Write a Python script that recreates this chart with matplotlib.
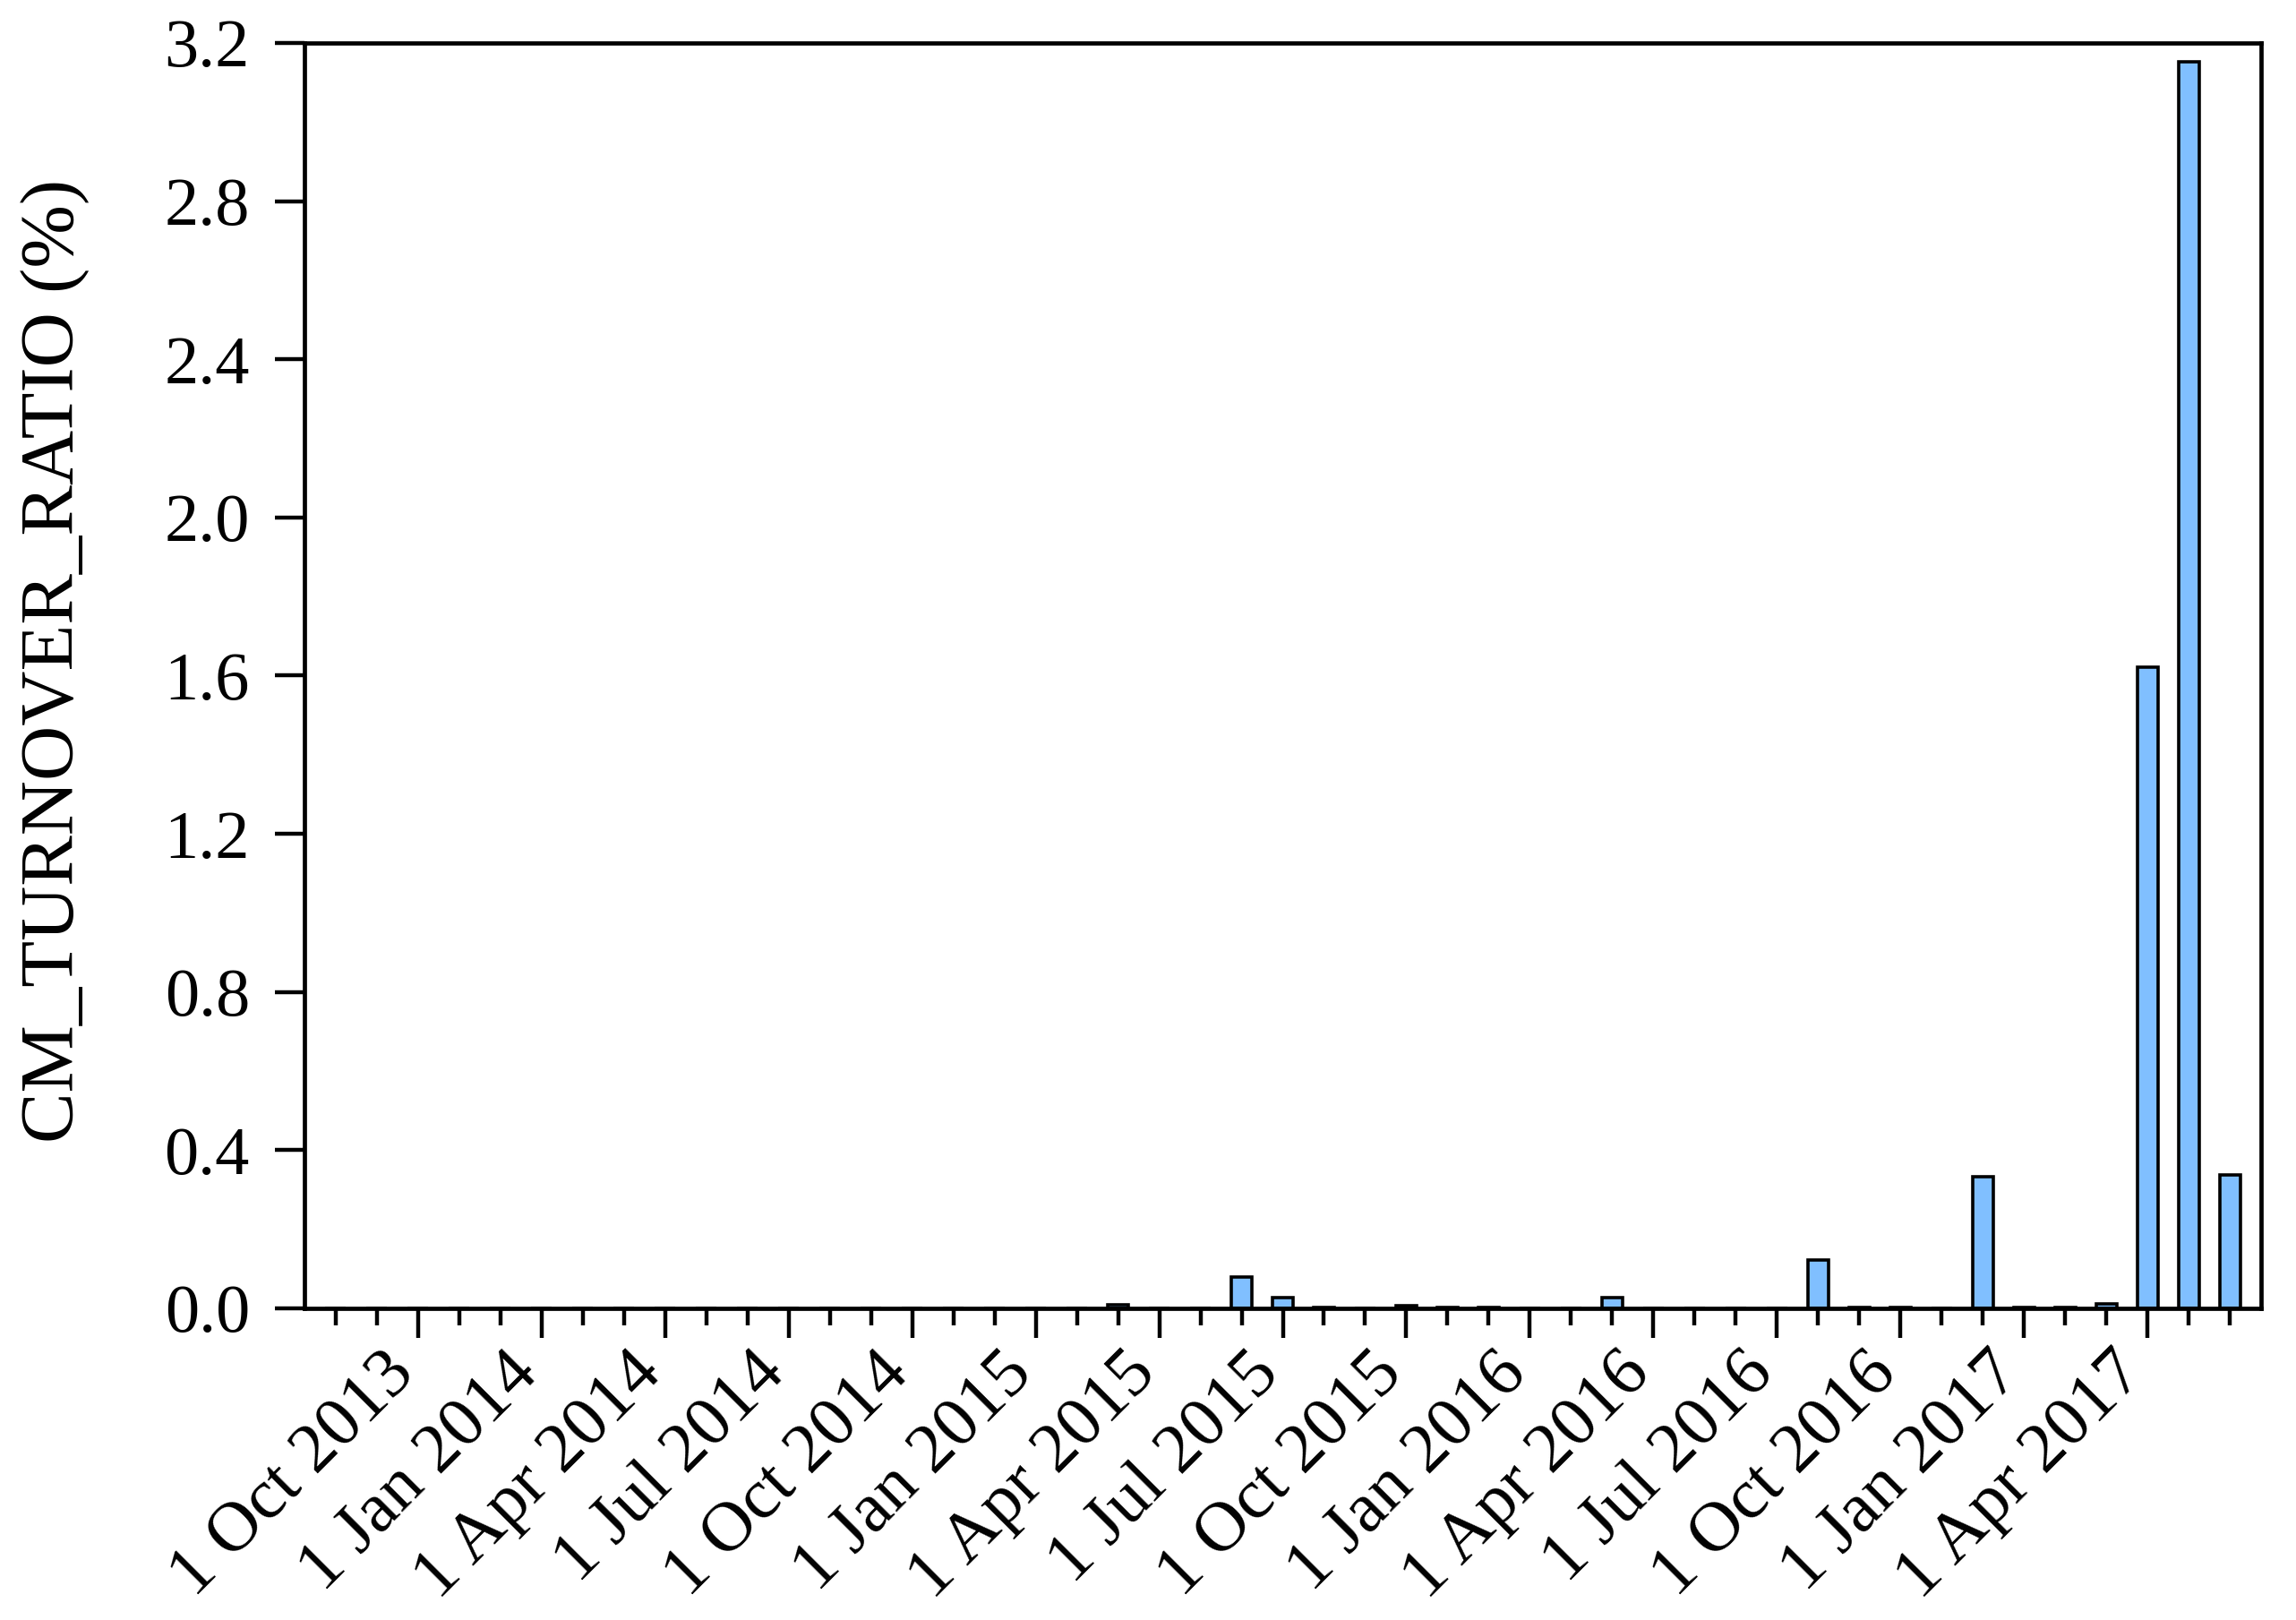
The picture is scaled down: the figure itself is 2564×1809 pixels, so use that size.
import matplotlib

matplotlib.use("Agg")
import matplotlib.pyplot as plt
import matplotlib.transforms as mtransforms
import numpy as np
import pandas as pd

# monthly observations, Aug 2013 .. Jun 2017
months = pd.date_range("2013-08-01", "2017-06-01", freq="MS")
turnover = [
    0.0, 0.0, 0.0, 0.0, 0.0,                      # Aug-Dec 2013
    0.0, 0.0, 0.0, 0.0, 0.0, 0.0,                 # Jan-Jun 2014
    0.0, 0.0, 0.0, 0.0, 0.0, 0.0,                 # Jul-Dec 2014
    0.0, 0.0, 0.010, 0.0, 0.0, 0.080,             # Jan-Jun 2015
    0.028, 0.002, 0.0, 0.006, 0.002, 0.002,       # Jul-Dec 2015
    0.0, 0.0, 0.028, 0.0, 0.0, 0.0,               # Jan-Jun 2016
    0.0, 0.122, 0.002, 0.002, 0.0, 0.332,         # Jul-Dec 2016
    0.002, 0.002, 0.012, 1.622, 3.152, 0.338,     # Jan-Jun 2017
]
y_ticks = [0.0, 0.4, 0.8, 1.2, 1.6, 2.0, 2.4, 2.8, 3.2]

plt.rcParams["font.family"] = ["Liberation Serif", "DejaVu Serif"]

figure = plt.figure(figsize=(25.64, 18.09), dpi=100)
axis = figure.add_axes([0.1326, 0.1924, 0.8522, 0.7811])

positions = np.arange(len(months))
axis.bar(positions, turnover, width=0.5, color="#80BFFF", edgecolor="black", linewidth=2.6, zorder=1)

major = [i for i, month in enumerate(months) if month.month in (1, 4, 7, 10)]
axis.set_xticks(major)
axis.set_xticklabels([f"{months[i].day} {months[i]:%b %Y}" for i in major], rotation=45, ha="right", fontsize=57)
axis.set_xticks(positions, minor=True)
axis.tick_params(axis="x", which="major", length=24, width=3.2, pad=2)
axis.tick_params(axis="x", which="minor", length=14, width=3.2)
# nudge the slanted labels so their right end sits at the tick
shift = mtransforms.ScaledTranslation(0.10, 0, figure.dpi_scale_trans)
for label in axis.get_xticklabels():
    label.set_transform(label.get_transform() + shift)

axis.set_yticks(y_ticks)
axis.set_yticklabels([f"{value:.1f}" for value in y_ticks], fontsize=55)
axis.tick_params(axis="y", which="major", length=24, width=3.2, pad=20)

axis.set_xlim(-0.76, len(months) - 1 + 0.76)
axis.set_ylim(0, 3.2)
for spine in axis.spines.values():
    spine.set_linewidth(3.4)

axis.set_ylabel("CM_TURNOVER_RATIO (%)", fontsize=61)
axis.yaxis.set_label_coords(-0.110, 0.512)

figure.savefig("out.png", dpi=100)
plt.close(figure)
